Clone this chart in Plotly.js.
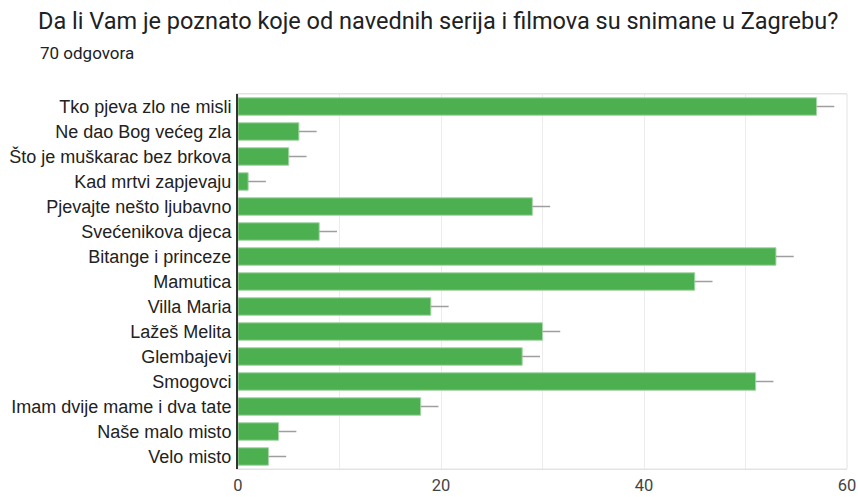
<!DOCTYPE html>
<html>
<head>
<meta charset="utf-8">
<script src="https://cdn.plot.ly/plotly-3.0.1.min.js"></script>
<style>html,body{margin:0;padding:0;background:#fff;}#chart{width:858px;height:497px;}</style>
</head>
<body>
<div id="chart"></div>
<script>
const categories = [
  "Tko pjeva zlo ne misli",
  "Ne dao Bog većeg zla",
  "Što je muškarac bez brkova",
  "Kad mrtvi zapjevaju",
  "Pjevajte nešto ljubavno",
  "Svećenikova djeca",
  "Bitange i princeze",
  "Mamutica",
  "Villa Maria",
  "Lažeš Melita",
  "Glembajevi",
  "Smogovci",
  "Imam dvije mame i dva tate",
  "Naše malo misto",
  "Velo misto"
];
const counts = [57, 6, 5, 1, 29, 8, 53, 45, 19, 30, 28, 51, 18, 4, 3];
const errPlus = [1.75, 1.75, 1.75, 1.75, 1.75, 1.75, 1.75, 1.75, 1.75, 1.75, 1.75, 1.75, 1.75, 1.75, 1.75];
const errMinus = [0, 0, 0, 0, 0, 0, 0, 0, 0, 0, 0, 0, 0, 0, 0];
const tickValues = [0, 10, 20, 30, 40, 50, 60];
const tickLabels = ["0", "", "20", "", "40", "", "60"];
const titleText = "Da li Vam je poznato koje od navednih serija i filmova su snimane u Zagrebu?";
const subtitleText = "70 odgovora";

const trace = {
  type: "bar",
  orientation: "h",
  y: categories,
  x: counts,
  marker: { color: "#4caf50", line: { color: "#a5d6a7", width: 1 } },
  error_x: {
    type: "data",
    symmetric: false,
    array: errPlus,
    arrayminus: errMinus,
    color: "#9e9e9e",
    thickness: 1.5,
    width: 0
  },
  hoverinfo: "x+y"
};

const layout = {
  width: 858,
  height: 497,
  margin: { l: 238, r: 11, t: 94, b: 28, pad: 0 },
  paper_bgcolor: "#ffffff",
  plot_bgcolor: "#ffffff",
  showlegend: false,
  bargap: 0.3,
  title: {
    text: titleText,
    xref: "container", yref: "container",
    x: 38 / 858, xanchor: "left",
    y: 1 - 21 / 497, yanchor: "middle",
    font: { family: "Roboto, 'Open Sans', sans-serif", size: 23.5, color: "#202124" }
  },
  annotations: [{
    text: subtitleText,
    xref: "paper", yref: "paper",
    x: (38 - 238) / 609, xanchor: "left",
    y: 1 + (94 - 53) / 375, yanchor: "middle",
    showarrow: false,
    font: { family: "Roboto, 'Open Sans', sans-serif", size: 17, color: "#202124" }
  }],
  xaxis: {
    range: [0, 60],
    tickvals: tickValues,
    ticktext: tickLabels,
    showgrid: true,
    gridcolor: "#ececec",
    gridwidth: 1,
    zeroline: false,
    showline: true,
    mirror: true,
    linecolor: "#e3e3e3",
    linewidth: 1,
    ticks: "",
    ticklabelstandoff: 1,
    tickfont: { family: "Roboto, Arial, sans-serif", size: 16.5, color: "#444444" },
    fixedrange: true
  },
  yaxis: {
    autorange: "reversed",
    showgrid: false,
    zeroline: false,
    showline: true,
    mirror: false,
    linecolor: "#333333",
    linewidth: 2,
    ticks: "",
    ticklabelstandoff: 1,
    tickfont: { family: "'Liberation Sans', Arial, sans-serif", size: 18, color: "#222222" },
    fixedrange: true
  },
  shapes: [{
    type: "rect", xref: "paper", yref: "paper",
    x0: 0, x1: 1, y0: 0, y1: 1,
    line: { color: "#e3e3e3", width: 1 }, layer: "below"
  }]
};

Plotly.newPlot("chart", [trace], layout, { displayModeBar: false, staticPlot: true });
</script>
</body>
</html>
